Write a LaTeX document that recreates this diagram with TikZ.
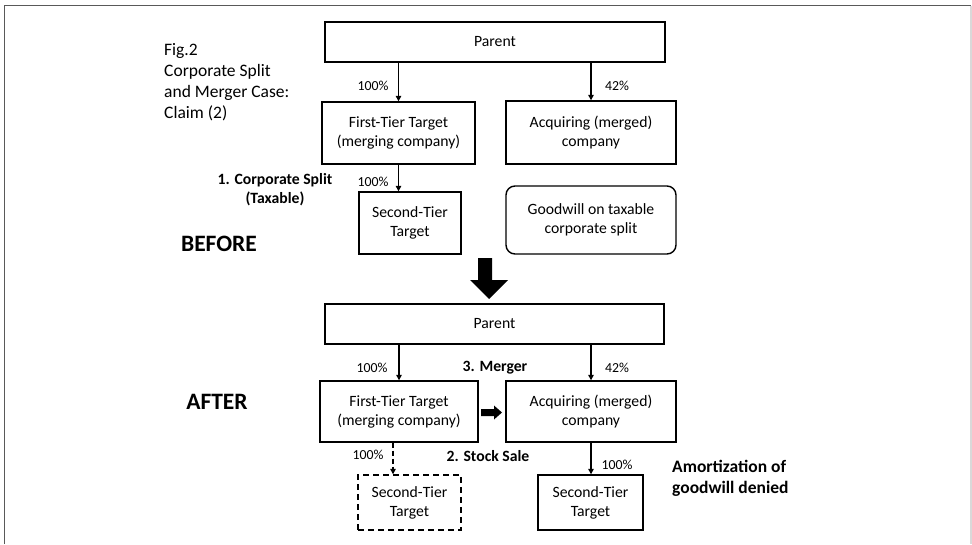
\documentclass[tikz,border=0pt]{standalone}
\usepackage{fontspec}
\setmainfont{Carlito}
\usetikzlibrary{arrows.meta}

\tikzset{
  entity/.style={draw, line width=1.4pt, align=center, inner sep=1pt,
    font=\fontsize{15.7}{19}\selectfont},
  pct/.style={font=\fontsize{13.8}{16}\selectfont},
  step label/.style={font=\bfseries\fontsize{15.7}{19}\selectfont, align=center},
  stage/.style={font=\bfseries\fontsize{23.5}{26}\selectfont},
  own/.style={-{Triangle[length=5.5pt,width=5.5pt]}, line width=1.3pt},
}

\begin{document}
\begin{tikzpicture}[x=1pt,y=-1pt]
	\useasboundingbox (0,0) rectangle (972,544);
	% frame
	\draw [line width=1.6pt, color=black!65] (4.5,544) -- (4.5,5.5) -- (971,5.5);
	\draw [line width=1.2pt, color=black!15] (971,5.5) -- (971,544);

	\node [anchor=west, align=left, inner sep=0pt, font=\fontsize{17.5}{21}\selectfont] (title) at (164,82)
		{Fig.2\\Corporate Split\\and Merger Case:\\Claim (2)};

	% before
	\node [entity, minimum width=340pt, minimum height=40pt] (parent1) at (495,42) {Parent};
	\node [entity, minimum width=153pt, minimum height=62pt] (first1) at (398.5,133) {First-Tier Target\\(merging company)};
	\node [entity, minimum width=170pt, minimum height=63pt] (acq1) at (591,132.5) {Acquiring (merged)\\company};
	\node [entity, minimum width=102pt, minimum height=62pt] (second1) at (410,223) {Second-Tier\\Target};
	\node [entity, rounded corners=9pt, minimum width=170pt, minimum height=68pt] (goodwill) at (591,220) {Goodwill on taxable\\corporate split};

	\draw [own] (parent1.south -| first1.north) -- (first1.north);
	\draw [own] (parent1.south -| acq1.north) -- (acq1.north);
	\draw [own] (first1.south) -- (first1.south |- second1.north);

	\node [pct] (p1) at (373,86) {100\%};
	\node [pct] (p2) at (617,86) {42\%};
	\node [pct] (p3) at (373,182) {100\%};
	\node [step label] (split) at (275,189.5) {1. Corporate Split\\(Taxable)};
	\node [stage] (before) at (219,244) {BEFORE};

	% big arrow down
	\fill (478,258) -- (492,258) -- (492,280) -- (508,280) -- (489,299) -- (470,280) -- (478,280) -- cycle;

	% after
	\node [entity, minimum width=339pt, minimum height=40pt] (parent2) at (494.5,324) {Parent};
	\node [entity, minimum width=158pt, minimum height=61pt] (first2) at (399,411.5) {First-Tier Target\\(merging company)};
	\node [entity, minimum width=170pt, minimum height=61pt] (acq2) at (591,411.5) {Acquiring (merged)\\company};
	\node [entity, dashed, dash pattern=on 6pt off 4pt, minimum width=103pt, minimum height=55pt] (second2) at (409.5,502.5) {Second-Tier\\Target};
	\node [entity, minimum width=105pt, minimum height=55pt] (second3) at (590.5,502.5) {Second-Tier\\Target};

	\draw [own] (parent2.south -| first2.north) -- (first2.north);
	\draw [own] (parent2.south -| acq2.north) -- (acq2.north);
	\draw [own, dashed, dash pattern=on 5pt off 3pt] ([xshift=-6pt]first2.south) -- ([xshift=-6pt]first2.south |- second2.north);
	\draw [own] (acq2.south) -- (acq2.south |- second3.north);

	% merger arrow
	\fill (481,409) -- (494,409) -- (494,405.5) -- (502,412.5) -- (494,419.5) -- (494,416) -- (481,416) -- cycle;

	\node [pct] (p4) at (372,368) {100\%};
	\node [pct] (p5) at (617,368) {42\%};
	\node [pct] (p6) at (368,455) {100\%};
	\node [pct] (p7) at (617,465) {100\%};
	\node [step label] (merger) at (495,368) {3. Merger};
	\node [step label] (sale) at (488,456) {2. Stock Sale};
	\node [stage] (after) at (217,402) {AFTER};
	\node [anchor=west, align=left, inner sep=0pt, font=\bfseries\fontsize{17.5}{21}\selectfont] (amort) at (672,478.5) {Amortization of\\goodwill denied};
\end{tikzpicture}
\end{document}
